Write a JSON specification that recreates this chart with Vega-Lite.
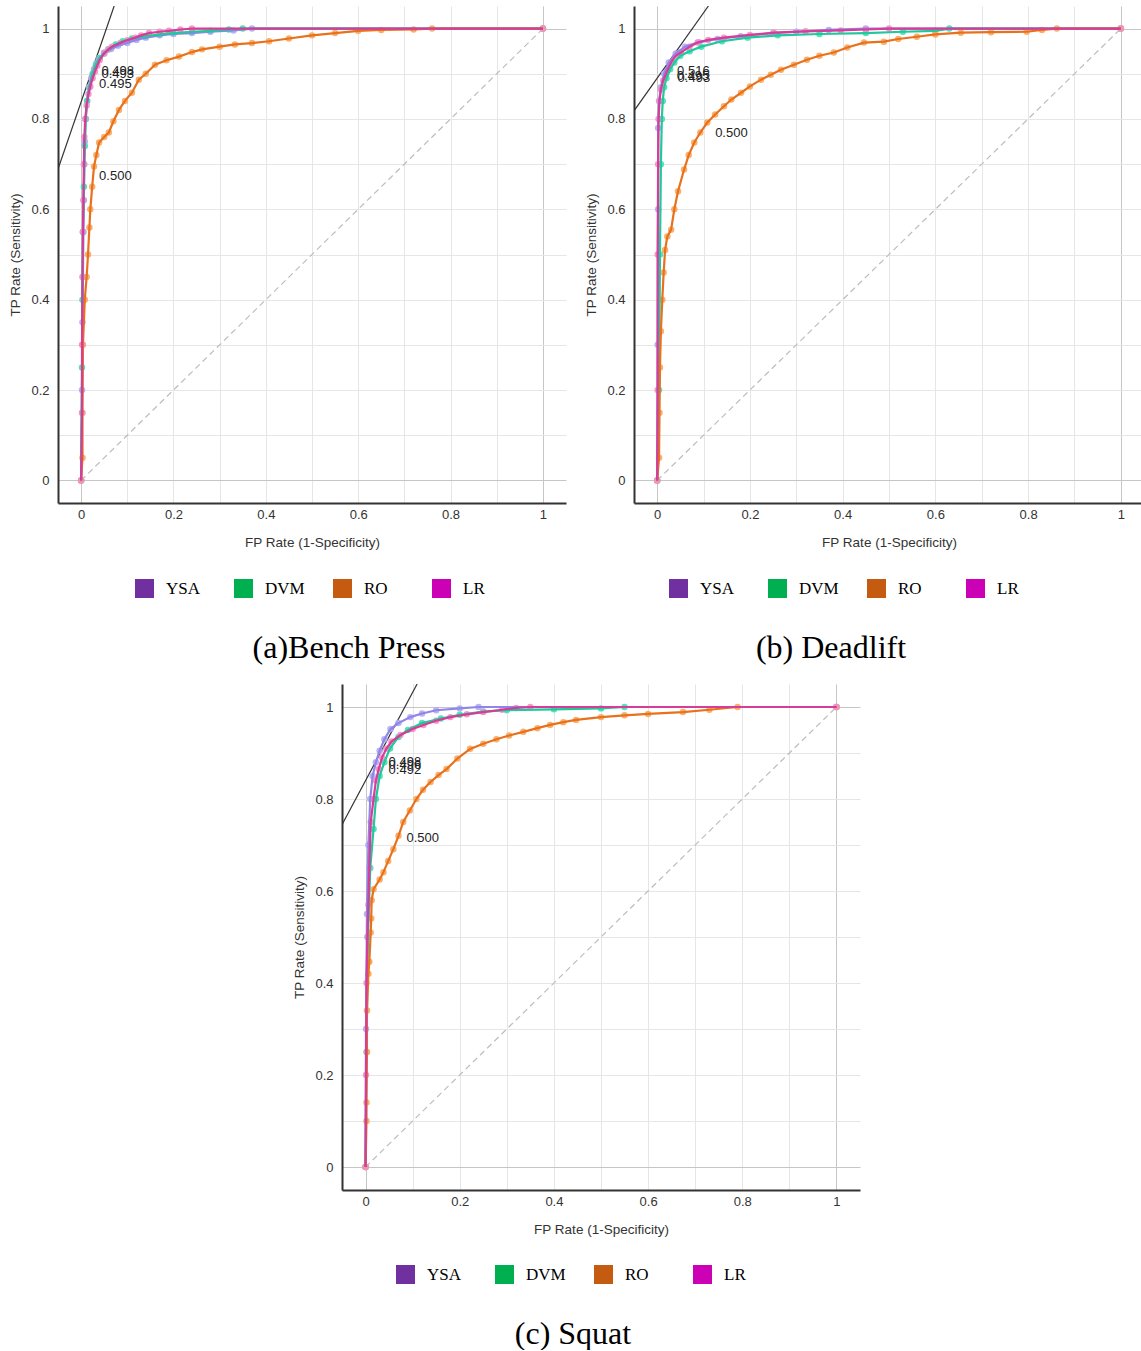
{
  "$schema": "https://vega.github.io/schema/vega-lite/v6.json",
  "background": "white",
  "padding": {"left": 8, "top": 6, "right": 0, "bottom": 0},
  "config": {
    "view": {"stroke": null},
    "font": "Liberation Sans",
    "axis": {
      "labelFont": "Liberation Sans", "labelFontSize": 13, "labelColor": "#333",
      "titleFont": "Liberation Sans", "titleFontSize": 13.5, "titleFontWeight": "normal", "titleColor": "#333",
      "ticks": false, "tickSize": 0, "domainColor": "#333", "domainWidth": 2,
      "grid": true, "gridWidth": 1, "labelOverlap": false, "labelFlush": false, "format": "~g"
    },
    "axisX": {"labelPadding": 5, "titlePadding": 14},
    "axisY": {"labelPadding": 9, "titlePadding": 8},
    "legend": {
      "orient": "none", "direction": "horizontal", "columns": 4, "symbolType": "square", "symbolSize": 361,
      "symbolStrokeWidth": 0, "symbolOpacity": 1, "labelFont": "Liberation Serif", "labelFontSize": 17, "labelColor": "#000",
      "labelOffset": 12, "columnPadding": 28, "gridAlign": "all", "padding": 0
    },
    "title": {"font": "Liberation Serif", "fontSize": 32, "fontWeight": "normal", "color": "#000", "orient": "bottom", "anchor": "middle", "frame": "group", "offset": 35}
  },
  "datasets": {
    "roc": [
      {"p":"a","m":"YSA","x":0,"y":0},{"p":"a","m":"YSA","x":0.002,"y":0.2},{"p":"a","m":"YSA","x":0.003,"y":0.35},{"p":"a","m":"YSA","x":0.004,"y":0.45},{"p":"a","m":"YSA","x":0.005,"y":0.55},{"p":"a","m":"YSA","x":0.006,"y":0.62},{"p":"a","m":"YSA","x":0.007,"y":0.7},{"p":"a","m":"YSA","x":0.008,"y":0.75},{"p":"a","m":"YSA","x":0.01,"y":0.8},{"p":"a","m":"YSA","x":0.013,"y":0.84},{"p":"a","m":"YSA","x":0.017,"y":0.87},{"p":"a","m":"YSA","x":0.022,"y":0.89},{"p":"a","m":"YSA","x":0.028,"y":0.91},{"p":"a","m":"YSA","x":0.034,"y":0.925},{"p":"a","m":"YSA","x":0.04,"y":0.935},{"p":"a","m":"YSA","x":0.05,"y":0.947},{"p":"a","m":"YSA","x":0.065,"y":0.955},{"p":"a","m":"YSA","x":0.08,"y":0.962},{"p":"a","m":"YSA","x":0.1,"y":0.968},{"p":"a","m":"YSA","x":0.12,"y":0.975},{"p":"a","m":"YSA","x":0.14,"y":0.98},{"p":"a","m":"YSA","x":0.17,"y":0.985},{"p":"a","m":"YSA","x":0.2,"y":0.988},{"p":"a","m":"YSA","x":0.24,"y":0.99},{"p":"a","m":"YSA","x":0.28,"y":0.993},{"p":"a","m":"YSA","x":0.33,"y":0.996},{"p":"a","m":"YSA","x":0.37,"y":1},{"p":"a","m":"YSA","x":1,"y":1},
      {"p":"a","m":"DVM","x":0,"y":0},{"p":"a","m":"DVM","x":0.002,"y":0.25},{"p":"a","m":"DVM","x":0.003,"y":0.4},{"p":"a","m":"DVM","x":0.004,"y":0.55},{"p":"a","m":"DVM","x":0.006,"y":0.65},{"p":"a","m":"DVM","x":0.008,"y":0.74},{"p":"a","m":"DVM","x":0.01,"y":0.8},{"p":"a","m":"DVM","x":0.013,"y":0.84},{"p":"a","m":"DVM","x":0.018,"y":0.87},{"p":"a","m":"DVM","x":0.025,"y":0.9},{"p":"a","m":"DVM","x":0.032,"y":0.92},{"p":"a","m":"DVM","x":0.04,"y":0.935},{"p":"a","m":"DVM","x":0.05,"y":0.945},{"p":"a","m":"DVM","x":0.06,"y":0.955},{"p":"a","m":"DVM","x":0.075,"y":0.965},{"p":"a","m":"DVM","x":0.09,"y":0.972},{"p":"a","m":"DVM","x":0.11,"y":0.978},{"p":"a","m":"DVM","x":0.14,"y":0.983},{"p":"a","m":"DVM","x":0.17,"y":0.987},{"p":"a","m":"DVM","x":0.2,"y":0.99},{"p":"a","m":"DVM","x":0.24,"y":0.993},{"p":"a","m":"DVM","x":0.28,"y":0.995},{"p":"a","m":"DVM","x":0.32,"y":0.998},{"p":"a","m":"DVM","x":0.35,"y":1},{"p":"a","m":"DVM","x":1,"y":1},
      {"p":"a","m":"RO","x":0,"y":0},{"p":"a","m":"RO","x":0.003,"y":0.05},{"p":"a","m":"RO","x":0.003,"y":0.15},{"p":"a","m":"RO","x":0.004,"y":0.3},{"p":"a","m":"RO","x":0.008,"y":0.4},{"p":"a","m":"RO","x":0.012,"y":0.45},{"p":"a","m":"RO","x":0.015,"y":0.5},{"p":"a","m":"RO","x":0.018,"y":0.56},{"p":"a","m":"RO","x":0.02,"y":0.6},{"p":"a","m":"RO","x":0.024,"y":0.65},{"p":"a","m":"RO","x":0.028,"y":0.695},{"p":"a","m":"RO","x":0.033,"y":0.72},{"p":"a","m":"RO","x":0.039,"y":0.748},{"p":"a","m":"RO","x":0.05,"y":0.76},{"p":"a","m":"RO","x":0.06,"y":0.77},{"p":"a","m":"RO","x":0.07,"y":0.795},{"p":"a","m":"RO","x":0.082,"y":0.82},{"p":"a","m":"RO","x":0.095,"y":0.84},{"p":"a","m":"RO","x":0.11,"y":0.858},{"p":"a","m":"RO","x":0.125,"y":0.887},{"p":"a","m":"RO","x":0.14,"y":0.9},{"p":"a","m":"RO","x":0.16,"y":0.92},{"p":"a","m":"RO","x":0.185,"y":0.93},{"p":"a","m":"RO","x":0.212,"y":0.938},{"p":"a","m":"RO","x":0.24,"y":0.948},{"p":"a","m":"RO","x":0.262,"y":0.954},{"p":"a","m":"RO","x":0.3,"y":0.96},{"p":"a","m":"RO","x":0.333,"y":0.965},{"p":"a","m":"RO","x":0.37,"y":0.968},{"p":"a","m":"RO","x":0.407,"y":0.972},{"p":"a","m":"RO","x":0.45,"y":0.978},{"p":"a","m":"RO","x":0.5,"y":0.985},{"p":"a","m":"RO","x":0.55,"y":0.99},{"p":"a","m":"RO","x":0.6,"y":0.995},{"p":"a","m":"RO","x":0.65,"y":0.997},{"p":"a","m":"RO","x":0.72,"y":0.998},{"p":"a","m":"RO","x":0.76,"y":1},{"p":"a","m":"RO","x":1,"y":1},
      {"p":"a","m":"LR","x":0,"y":0},{"p":"a","m":"LR","x":0.002,"y":0.15},{"p":"a","m":"LR","x":0.002,"y":0.3},{"p":"a","m":"LR","x":0.003,"y":0.45},{"p":"a","m":"LR","x":0.004,"y":0.55},{"p":"a","m":"LR","x":0.005,"y":0.62},{"p":"a","m":"LR","x":0.006,"y":0.7},{"p":"a","m":"LR","x":0.007,"y":0.76},{"p":"a","m":"LR","x":0.009,"y":0.8},{"p":"a","m":"LR","x":0.012,"y":0.83},{"p":"a","m":"LR","x":0.016,"y":0.855},{"p":"a","m":"LR","x":0.02,"y":0.872},{"p":"a","m":"LR","x":0.025,"y":0.89},{"p":"a","m":"LR","x":0.03,"y":0.905},{"p":"a","m":"LR","x":0.035,"y":0.918},{"p":"a","m":"LR","x":0.04,"y":0.93},{"p":"a","m":"LR","x":0.05,"y":0.945},{"p":"a","m":"LR","x":0.058,"y":0.953},{"p":"a","m":"LR","x":0.067,"y":0.96},{"p":"a","m":"LR","x":0.085,"y":0.968},{"p":"a","m":"LR","x":0.1,"y":0.974},{"p":"a","m":"LR","x":0.117,"y":0.98},{"p":"a","m":"LR","x":0.13,"y":0.985},{"p":"a","m":"LR","x":0.147,"y":0.99},{"p":"a","m":"LR","x":0.17,"y":0.993},{"p":"a","m":"LR","x":0.19,"y":0.995},{"p":"a","m":"LR","x":0.215,"y":0.998},{"p":"a","m":"LR","x":0.24,"y":1},{"p":"a","m":"LR","x":1,"y":1},

      {"p":"b","m":"YSA","x":0,"y":0},{"p":"b","m":"YSA","x":0.001,"y":0.3},{"p":"b","m":"YSA","x":0.002,"y":0.6},{"p":"b","m":"YSA","x":0.002,"y":0.78},{"p":"b","m":"YSA","x":0.004,"y":0.84},{"p":"b","m":"YSA","x":0.008,"y":0.87},{"p":"b","m":"YSA","x":0.015,"y":0.9},{"p":"b","m":"YSA","x":0.025,"y":0.925},{"p":"b","m":"YSA","x":0.04,"y":0.945},{"p":"b","m":"YSA","x":0.06,"y":0.96},{"p":"b","m":"YSA","x":0.09,"y":0.97},{"p":"b","m":"YSA","x":0.13,"y":0.977},{"p":"b","m":"YSA","x":0.18,"y":0.983},{"p":"b","m":"YSA","x":0.25,"y":0.99},{"p":"b","m":"YSA","x":0.3,"y":0.993},{"p":"b","m":"YSA","x":0.37,"y":0.997},{"p":"b","m":"YSA","x":0.45,"y":1},{"p":"b","m":"YSA","x":1,"y":1},
      {"p":"b","m":"DVM","x":0,"y":0},{"p":"b","m":"DVM","x":0.004,"y":0.2},{"p":"b","m":"DVM","x":0.006,"y":0.5},{"p":"b","m":"DVM","x":0.008,"y":0.7},{"p":"b","m":"DVM","x":0.01,"y":0.8},{"p":"b","m":"DVM","x":0.012,"y":0.84},{"p":"b","m":"DVM","x":0.015,"y":0.87},{"p":"b","m":"DVM","x":0.02,"y":0.89},{"p":"b","m":"DVM","x":0.028,"y":0.91},{"p":"b","m":"DVM","x":0.037,"y":0.925},{"p":"b","m":"DVM","x":0.05,"y":0.94},{"p":"b","m":"DVM","x":0.07,"y":0.95},{"p":"b","m":"DVM","x":0.095,"y":0.96},{"p":"b","m":"DVM","x":0.14,"y":0.972},{"p":"b","m":"DVM","x":0.195,"y":0.98},{"p":"b","m":"DVM","x":0.26,"y":0.985},{"p":"b","m":"DVM","x":0.35,"y":0.988},{"p":"b","m":"DVM","x":0.45,"y":0.99},{"p":"b","m":"DVM","x":0.53,"y":0.993},{"p":"b","m":"DVM","x":0.6,"y":0.995},{"p":"b","m":"DVM","x":0.63,"y":1},{"p":"b","m":"DVM","x":1,"y":1},
      {"p":"b","m":"RO","x":0,"y":0},{"p":"b","m":"RO","x":0.004,"y":0.05},{"p":"b","m":"RO","x":0.005,"y":0.15},{"p":"b","m":"RO","x":0.006,"y":0.25},{"p":"b","m":"RO","x":0.008,"y":0.33},{"p":"b","m":"RO","x":0.011,"y":0.4},{"p":"b","m":"RO","x":0.014,"y":0.46},{"p":"b","m":"RO","x":0.017,"y":0.51},{"p":"b","m":"RO","x":0.022,"y":0.54},{"p":"b","m":"RO","x":0.03,"y":0.555},{"p":"b","m":"RO","x":0.037,"y":0.6},{"p":"b","m":"RO","x":0.045,"y":0.64},{"p":"b","m":"RO","x":0.058,"y":0.688},{"p":"b","m":"RO","x":0.068,"y":0.72},{"p":"b","m":"RO","x":0.08,"y":0.748},{"p":"b","m":"RO","x":0.093,"y":0.77},{"p":"b","m":"RO","x":0.108,"y":0.792},{"p":"b","m":"RO","x":0.125,"y":0.81},{"p":"b","m":"RO","x":0.144,"y":0.828},{"p":"b","m":"RO","x":0.16,"y":0.843},{"p":"b","m":"RO","x":0.181,"y":0.858},{"p":"b","m":"RO","x":0.2,"y":0.872},{"p":"b","m":"RO","x":0.224,"y":0.887},{"p":"b","m":"RO","x":0.245,"y":0.898},{"p":"b","m":"RO","x":0.267,"y":0.909},{"p":"b","m":"RO","x":0.295,"y":0.92},{"p":"b","m":"RO","x":0.323,"y":0.931},{"p":"b","m":"RO","x":0.35,"y":0.94},{"p":"b","m":"RO","x":0.381,"y":0.947},{"p":"b","m":"RO","x":0.41,"y":0.958},{"p":"b","m":"RO","x":0.446,"y":0.969},{"p":"b","m":"RO","x":0.489,"y":0.971},{"p":"b","m":"RO","x":0.52,"y":0.977},{"p":"b","m":"RO","x":0.56,"y":0.982},{"p":"b","m":"RO","x":0.6,"y":0.987},{"p":"b","m":"RO","x":0.655,"y":0.991},{"p":"b","m":"RO","x":0.72,"y":0.992},{"p":"b","m":"RO","x":0.797,"y":0.993},{"p":"b","m":"RO","x":0.83,"y":0.997},{"p":"b","m":"RO","x":0.862,"y":1},{"p":"b","m":"RO","x":1,"y":1},
      {"p":"b","m":"LR","x":0,"y":0},{"p":"b","m":"LR","x":0.001,"y":0.2},{"p":"b","m":"LR","x":0.001,"y":0.5},{"p":"b","m":"LR","x":0.002,"y":0.7},{"p":"b","m":"LR","x":0.003,"y":0.8},{"p":"b","m":"LR","x":0.005,"y":0.84},{"p":"b","m":"LR","x":0.008,"y":0.865},{"p":"b","m":"LR","x":0.013,"y":0.885},{"p":"b","m":"LR","x":0.021,"y":0.905},{"p":"b","m":"LR","x":0.03,"y":0.925},{"p":"b","m":"LR","x":0.04,"y":0.94},{"p":"b","m":"LR","x":0.051,"y":0.947},{"p":"b","m":"LR","x":0.07,"y":0.96},{"p":"b","m":"LR","x":0.087,"y":0.969},{"p":"b","m":"LR","x":0.11,"y":0.975},{"p":"b","m":"LR","x":0.144,"y":0.98},{"p":"b","m":"LR","x":0.2,"y":0.986},{"p":"b","m":"LR","x":0.252,"y":0.991},{"p":"b","m":"LR","x":0.32,"y":0.994},{"p":"b","m":"LR","x":0.396,"y":0.996},{"p":"b","m":"LR","x":0.45,"y":0.998},{"p":"b","m":"LR","x":0.5,"y":1},{"p":"b","m":"LR","x":1,"y":1},

      {"p":"c","m":"YSA","x":0,"y":0},{"p":"c","m":"YSA","x":0.001,"y":0.3},{"p":"c","m":"YSA","x":0.003,"y":0.55},{"p":"c","m":"YSA","x":0.006,"y":0.7},{"p":"c","m":"YSA","x":0.01,"y":0.8},{"p":"c","m":"YSA","x":0.015,"y":0.85},{"p":"c","m":"YSA","x":0.022,"y":0.88},{"p":"c","m":"YSA","x":0.03,"y":0.905},{"p":"c","m":"YSA","x":0.04,"y":0.93},{"p":"c","m":"YSA","x":0.053,"y":0.952},{"p":"c","m":"YSA","x":0.07,"y":0.965},{"p":"c","m":"YSA","x":0.095,"y":0.978},{"p":"c","m":"YSA","x":0.12,"y":0.986},{"p":"c","m":"YSA","x":0.15,"y":0.993},{"p":"c","m":"YSA","x":0.2,"y":0.997},{"p":"c","m":"YSA","x":0.24,"y":1},{"p":"c","m":"YSA","x":1,"y":1},
      {"p":"c","m":"DVM","x":0,"y":0},{"p":"c","m":"DVM","x":0.002,"y":0.25},{"p":"c","m":"DVM","x":0.005,"y":0.5},{"p":"c","m":"DVM","x":0.01,"y":0.65},{"p":"c","m":"DVM","x":0.017,"y":0.735},{"p":"c","m":"DVM","x":0.022,"y":0.8},{"p":"c","m":"DVM","x":0.03,"y":0.85},{"p":"c","m":"DVM","x":0.04,"y":0.88},{"p":"c","m":"DVM","x":0.052,"y":0.91},{"p":"c","m":"DVM","x":0.07,"y":0.935},{"p":"c","m":"DVM","x":0.09,"y":0.95},{"p":"c","m":"DVM","x":0.12,"y":0.965},{"p":"c","m":"DVM","x":0.16,"y":0.975},{"p":"c","m":"DVM","x":0.2,"y":0.983},{"p":"c","m":"DVM","x":0.25,"y":0.99},{"p":"c","m":"DVM","x":0.3,"y":0.993},{"p":"c","m":"DVM","x":0.4,"y":0.995},{"p":"c","m":"DVM","x":0.5,"y":0.997},{"p":"c","m":"DVM","x":0.55,"y":1},{"p":"c","m":"DVM","x":1,"y":1},
      {"p":"c","m":"RO","x":0,"y":0},{"p":"c","m":"RO","x":0.002,"y":0.1},{"p":"c","m":"RO","x":0.002,"y":0.14},{"p":"c","m":"RO","x":0.003,"y":0.25},{"p":"c","m":"RO","x":0.003,"y":0.34},{"p":"c","m":"RO","x":0.006,"y":0.42},{"p":"c","m":"RO","x":0.008,"y":0.446},{"p":"c","m":"RO","x":0.011,"y":0.51},{"p":"c","m":"RO","x":0.012,"y":0.54},{"p":"c","m":"RO","x":0.013,"y":0.58},{"p":"c","m":"RO","x":0.017,"y":0.604},{"p":"c","m":"RO","x":0.03,"y":0.625},{"p":"c","m":"RO","x":0.038,"y":0.641},{"p":"c","m":"RO","x":0.048,"y":0.665},{"p":"c","m":"RO","x":0.059,"y":0.691},{"p":"c","m":"RO","x":0.07,"y":0.72},{"p":"c","m":"RO","x":0.08,"y":0.75},{"p":"c","m":"RO","x":0.094,"y":0.775},{"p":"c","m":"RO","x":0.108,"y":0.8},{"p":"c","m":"RO","x":0.122,"y":0.82},{"p":"c","m":"RO","x":0.138,"y":0.837},{"p":"c","m":"RO","x":0.155,"y":0.852},{"p":"c","m":"RO","x":0.172,"y":0.865},{"p":"c","m":"RO","x":0.195,"y":0.888},{"p":"c","m":"RO","x":0.222,"y":0.909},{"p":"c","m":"RO","x":0.25,"y":0.92},{"p":"c","m":"RO","x":0.278,"y":0.93},{"p":"c","m":"RO","x":0.305,"y":0.938},{"p":"c","m":"RO","x":0.335,"y":0.946},{"p":"c","m":"RO","x":0.365,"y":0.954},{"p":"c","m":"RO","x":0.392,"y":0.961},{"p":"c","m":"RO","x":0.42,"y":0.967},{"p":"c","m":"RO","x":0.447,"y":0.972},{"p":"c","m":"RO","x":0.5,"y":0.978},{"p":"c","m":"RO","x":0.55,"y":0.982},{"p":"c","m":"RO","x":0.6,"y":0.985},{"p":"c","m":"RO","x":0.674,"y":0.989},{"p":"c","m":"RO","x":0.73,"y":0.994},{"p":"c","m":"RO","x":0.79,"y":1},{"p":"c","m":"RO","x":1,"y":1},
      {"p":"c","m":"LR","x":0,"y":0},{"p":"c","m":"LR","x":0.001,"y":0.2},{"p":"c","m":"LR","x":0.002,"y":0.4},{"p":"c","m":"LR","x":0.004,"y":0.5},{"p":"c","m":"LR","x":0.006,"y":0.57},{"p":"c","m":"LR","x":0.008,"y":0.65},{"p":"c","m":"LR","x":0.011,"y":0.75},{"p":"c","m":"LR","x":0.017,"y":0.8},{"p":"c","m":"LR","x":0.022,"y":0.84},{"p":"c","m":"LR","x":0.028,"y":0.865},{"p":"c","m":"LR","x":0.035,"y":0.89},{"p":"c","m":"LR","x":0.044,"y":0.909},{"p":"c","m":"LR","x":0.055,"y":0.925},{"p":"c","m":"LR","x":0.074,"y":0.939},{"p":"c","m":"LR","x":0.1,"y":0.952},{"p":"c","m":"LR","x":0.123,"y":0.961},{"p":"c","m":"LR","x":0.15,"y":0.97},{"p":"c","m":"LR","x":0.18,"y":0.978},{"p":"c","m":"LR","x":0.215,"y":0.984},{"p":"c","m":"LR","x":0.25,"y":0.989},{"p":"c","m":"LR","x":0.29,"y":0.994},{"p":"c","m":"LR","x":0.32,"y":0.998},{"p":"c","m":"LR","x":0.35,"y":1},{"p":"c","m":"LR","x":1,"y":1}
    ],
    "guides": [
      {"p":"a","k":"diag","x":0,"y":0},{"p":"a","k":"diag","x":1,"y":1},
      {"p":"a","k":"tan","x":-0.05,"y":0.689},{"p":"a","k":"tan","x":0.0716,"y":1.05},
      {"p":"b","k":"diag","x":0,"y":0},{"p":"b","k":"diag","x":1,"y":1},
      {"p":"b","k":"tan","x":-0.05,"y":0.818},{"p":"b","k":"tan","x":0.1105,"y":1.05},
      {"p":"c","k":"diag","x":0,"y":0},{"p":"c","k":"diag","x":1,"y":1},
      {"p":"c","k":"tan","x":-0.05,"y":0.744},{"p":"c","k":"tan","x":0.1095,"y":1.05}
    ],
    "thr": [
      {"p":"a","t":"0.498","x":0.044,"y":0.907},{"p":"a","t":"0.493","x":0.044,"y":0.9},{"p":"a","t":"0.495","x":0.039,"y":0.878},{"p":"a","t":"0.500","x":0.039,"y":0.673},
      {"p":"b","t":"0.516","x":0.043,"y":0.906},{"p":"b","t":"0.495","x":0.042,"y":0.894},{"p":"b","t":"0.493","x":0.044,"y":0.89},{"p":"b","t":"0.500","x":0.125,"y":0.768},
      {"p":"c","t":"0.498","x":0.049,"y":0.881},{"p":"c","t":"0.496","x":0.049,"y":0.874},{"p":"c","t":"0.492","x":0.049,"y":0.864},{"p":"c","t":"0.500","x":0.087,"y":0.715}
    ]
  },
  "vconcat": [
    {
      "hconcat": [
        {
          "width": 508, "height": 497,
          "title": {"text": "(a)Bench Press", "dx": 37},
          "encoding": {
            "x": {"field": "x", "type": "quantitative", "scale": {"domain": [-0.05, 1.05], "nice": false, "zero": false},
                  "axis": {"title": "FP Rate (1-Specificity)", "values": [0,0.1,0.2,0.3,0.4,0.5,0.6,0.7,0.8,0.9,1], "labelExpr": "round(datum.value*10) % 2 === 0 ? datum.label : ''", "gridColor": {"condition": {"test": "datum.value === 0 || datum.value === 1", "value": "#c6c6c6"}, "value": "#e6e6e6"}}},
            "y": {"field": "y", "type": "quantitative", "scale": {"domain": [-0.05, 1.05], "nice": false, "zero": false},
                  "axis": {"title": "TP Rate (Sensitivity)", "values": [0,0.1,0.2,0.3,0.4,0.5,0.6,0.7,0.8,0.9,1], "labelExpr": "round(datum.value*10) % 2 === 0 ? datum.label : ''", "gridColor": {"condition": {"test": "datum.value === 0 || datum.value === 1", "value": "#c6c6c6"}, "value": "#e6e6e6"}}}
          },
          "layer": [
            {"data": {"name": "guides"}, "transform": [{"filter": "datum.p === 'a' && datum.k === 'diag'"}], "mark": {"type": "line", "color": "#bdbdbd", "strokeDash": [6, 4], "strokeWidth": 1.2}, "encoding": {}},
            {"data": {"name": "guides"}, "transform": [{"filter": "datum.p === 'a' && datum.k === 'tan'"}], "mark": {"type": "line", "color": "#333", "strokeWidth": 1.2, "clip": true}, "encoding": {}},
            {"data": {"name": "roc"}, "transform": [{"filter": "datum.p === 'a'"}], "mark": {"type": "circle", "size": 42, "opacity": 0.9},
             "encoding": {"fill": {"field": "m", "type": "nominal", "scale": {"domain": ["YSA","DVM","RO","LR"], "range": ["#b3aaf5","#3fe0b5","#f9a65c","#f58fc6"]}, "legend": null}}},
            {"data": {"name": "roc"}, "transform": [{"filter": "datum.p === 'a'"}], "mark": {"type": "line", "strokeWidth": 2.2},
             "encoding": {"stroke": {"field": "m", "type": "nominal", "scale": {"domain": ["YSA","DVM","RO","LR"], "range": ["#8e86e8","#22c79a","#e8711c","#d63c98"]}, "legend": null}, "order": [{"field": "x"}, {"field": "y"}]}},
            {"data": {"name": "thr"}, "transform": [{"filter": "datum.p === 'a'"}], "mark": {"type": "text", "align": "left", "baseline": "middle", "fontSize": 13, "font": "Liberation Sans", "color": "#222"},
             "encoding": {"text": {"field": "t", "type": "nominal"}}},
            {"data": {"name": "roc"}, "transform": [{"filter": "datum.p === 'a'"}], "mark": {"type": "square", "opacity": 0},
             "encoding": {"color": {"field": "m", "type": "nominal", "scale": {"domain": ["YSA","DVM","RO","LR"], "range": ["#7030A0","#00B050","#C55A11","#CC00B4"]}, "legend": {"title": null, "legendX": 77, "legendY": 573}}}}
          ]
        },
        {
          "width": 510, "height": 497,
          "title": {"text": "(b) Deadlift", "dx": -58},
          "encoding": {
            "x": {"field": "x", "type": "quantitative", "scale": {"domain": [-0.05, 1.05], "nice": false, "zero": false},
                  "axis": {"title": "FP Rate (1-Specificity)", "values": [0,0.1,0.2,0.3,0.4,0.5,0.6,0.7,0.8,0.9,1], "labelExpr": "round(datum.value*10) % 2 === 0 ? datum.label : ''", "gridColor": {"condition": {"test": "datum.value === 0 || datum.value === 1", "value": "#c6c6c6"}, "value": "#e6e6e6"}}},
            "y": {"field": "y", "type": "quantitative", "scale": {"domain": [-0.05, 1.05], "nice": false, "zero": false},
                  "axis": {"title": "TP Rate (Sensitivity)", "values": [0,0.1,0.2,0.3,0.4,0.5,0.6,0.7,0.8,0.9,1], "labelExpr": "round(datum.value*10) % 2 === 0 ? datum.label : ''", "gridColor": {"condition": {"test": "datum.value === 0 || datum.value === 1", "value": "#c6c6c6"}, "value": "#e6e6e6"}}}
          },
          "layer": [
            {"data": {"name": "guides"}, "transform": [{"filter": "datum.p === 'b' && datum.k === 'diag'"}], "mark": {"type": "line", "color": "#bdbdbd", "strokeDash": [6, 4], "strokeWidth": 1.2}, "encoding": {}},
            {"data": {"name": "guides"}, "transform": [{"filter": "datum.p === 'b' && datum.k === 'tan'"}], "mark": {"type": "line", "color": "#333", "strokeWidth": 1.2, "clip": true}, "encoding": {}},
            {"data": {"name": "roc"}, "transform": [{"filter": "datum.p === 'b'"}], "mark": {"type": "circle", "size": 42, "opacity": 0.9},
             "encoding": {"fill": {"field": "m", "type": "nominal", "scale": {"domain": ["YSA","DVM","RO","LR"], "range": ["#b3aaf5","#3fe0b5","#f9a65c","#f58fc6"]}, "legend": null}}},
            {"data": {"name": "roc"}, "transform": [{"filter": "datum.p === 'b'"}], "mark": {"type": "line", "strokeWidth": 2.2},
             "encoding": {"stroke": {"field": "m", "type": "nominal", "scale": {"domain": ["YSA","DVM","RO","LR"], "range": ["#8e86e8","#22c79a","#e8711c","#d63c98"]}, "legend": null}, "order": [{"field": "x"}, {"field": "y"}]}},
            {"data": {"name": "thr"}, "transform": [{"filter": "datum.p === 'b'"}], "mark": {"type": "text", "align": "left", "baseline": "middle", "fontSize": 13, "font": "Liberation Sans", "color": "#222"},
             "encoding": {"text": {"field": "t", "type": "nominal"}}},
            {"data": {"name": "roc"}, "transform": [{"filter": "datum.p === 'b'"}], "mark": {"type": "square", "opacity": 0},
             "encoding": {"color": {"field": "m", "type": "nominal", "scale": {"domain": ["YSA","DVM","RO","LR"], "range": ["#7030A0","#00B050","#C55A11","#CC00B4"]}, "legend": {"title": null, "legendX": 35, "legendY": 573}}}}
          ]
        }
      ],
      "spacing": 18,
      "resolve": {"scale": {"color": "independent"}, "legend": {"color": "independent"}}
    },
    {
      "width": 518, "height": 506,
      "title": {"text": "(c) Squat", "dx": -28},
      "encoding": {
        "x": {"field": "x", "type": "quantitative", "scale": {"domain": [-0.05, 1.05], "nice": false, "zero": false},
              "axis": {"title": "FP Rate (1-Specificity)", "values": [0,0.1,0.2,0.3,0.4,0.5,0.6,0.7,0.8,0.9,1], "labelExpr": "round(datum.value*10) % 2 === 0 ? datum.label : ''", "gridColor": {"condition": {"test": "datum.value === 0 || datum.value === 1", "value": "#c6c6c6"}, "value": "#e6e6e6"}}},
        "y": {"field": "y", "type": "quantitative", "scale": {"domain": [-0.05, 1.05], "nice": false, "zero": false},
              "axis": {"title": "TP Rate (Sensitivity)", "values": [0,0.1,0.2,0.3,0.4,0.5,0.6,0.7,0.8,0.9,1], "labelExpr": "round(datum.value*10) % 2 === 0 ? datum.label : ''", "gridColor": {"condition": {"test": "datum.value === 0 || datum.value === 1", "value": "#c6c6c6"}, "value": "#e6e6e6"}}}
      },
      "layer": [
        {"data": {"name": "guides"}, "transform": [{"filter": "datum.p === 'c' && datum.k === 'diag'"}], "mark": {"type": "line", "color": "#bdbdbd", "strokeDash": [6, 4], "strokeWidth": 1.2}, "encoding": {}},
        {"data": {"name": "guides"}, "transform": [{"filter": "datum.p === 'c' && datum.k === 'tan'"}], "mark": {"type": "line", "color": "#333", "strokeWidth": 1.2, "clip": true}, "encoding": {}},
        {"data": {"name": "roc"}, "transform": [{"filter": "datum.p === 'c'"}], "mark": {"type": "circle", "size": 42, "opacity": 0.9},
         "encoding": {"fill": {"field": "m", "type": "nominal", "scale": {"domain": ["YSA","DVM","RO","LR"], "range": ["#b3aaf5","#3fe0b5","#f9a65c","#f58fc6"]}, "legend": null}}},
        {"data": {"name": "roc"}, "transform": [{"filter": "datum.p === 'c'"}], "mark": {"type": "line", "strokeWidth": 2.2},
         "encoding": {"stroke": {"field": "m", "type": "nominal", "scale": {"domain": ["YSA","DVM","RO","LR"], "range": ["#8e86e8","#22c79a","#e8711c","#d63c98"]}, "legend": null}, "order": [{"field": "x"}, {"field": "y"}]}},
        {"data": {"name": "thr"}, "transform": [{"filter": "datum.p === 'c'"}], "mark": {"type": "text", "align": "left", "baseline": "middle", "fontSize": 13, "font": "Liberation Sans", "color": "#222"},
         "encoding": {"text": {"field": "t", "type": "nominal"}}},
        {"data": {"name": "roc"}, "transform": [{"filter": "datum.p === 'c'"}], "mark": {"type": "square", "opacity": 0},
         "encoding": {"color": {"field": "m", "type": "nominal", "scale": {"domain": ["YSA","DVM","RO","LR"], "range": ["#7030A0","#00B050","#C55A11","#CC00B4"]}, "legend": {"title": null, "legendX": 54, "legendY": 581}}}}
      ]
    }
  ],
  "spacing": 20,
  "center": true,
  "resolve": {"scale": {"color": "independent"}, "legend": {"color": "independent"}}
}
